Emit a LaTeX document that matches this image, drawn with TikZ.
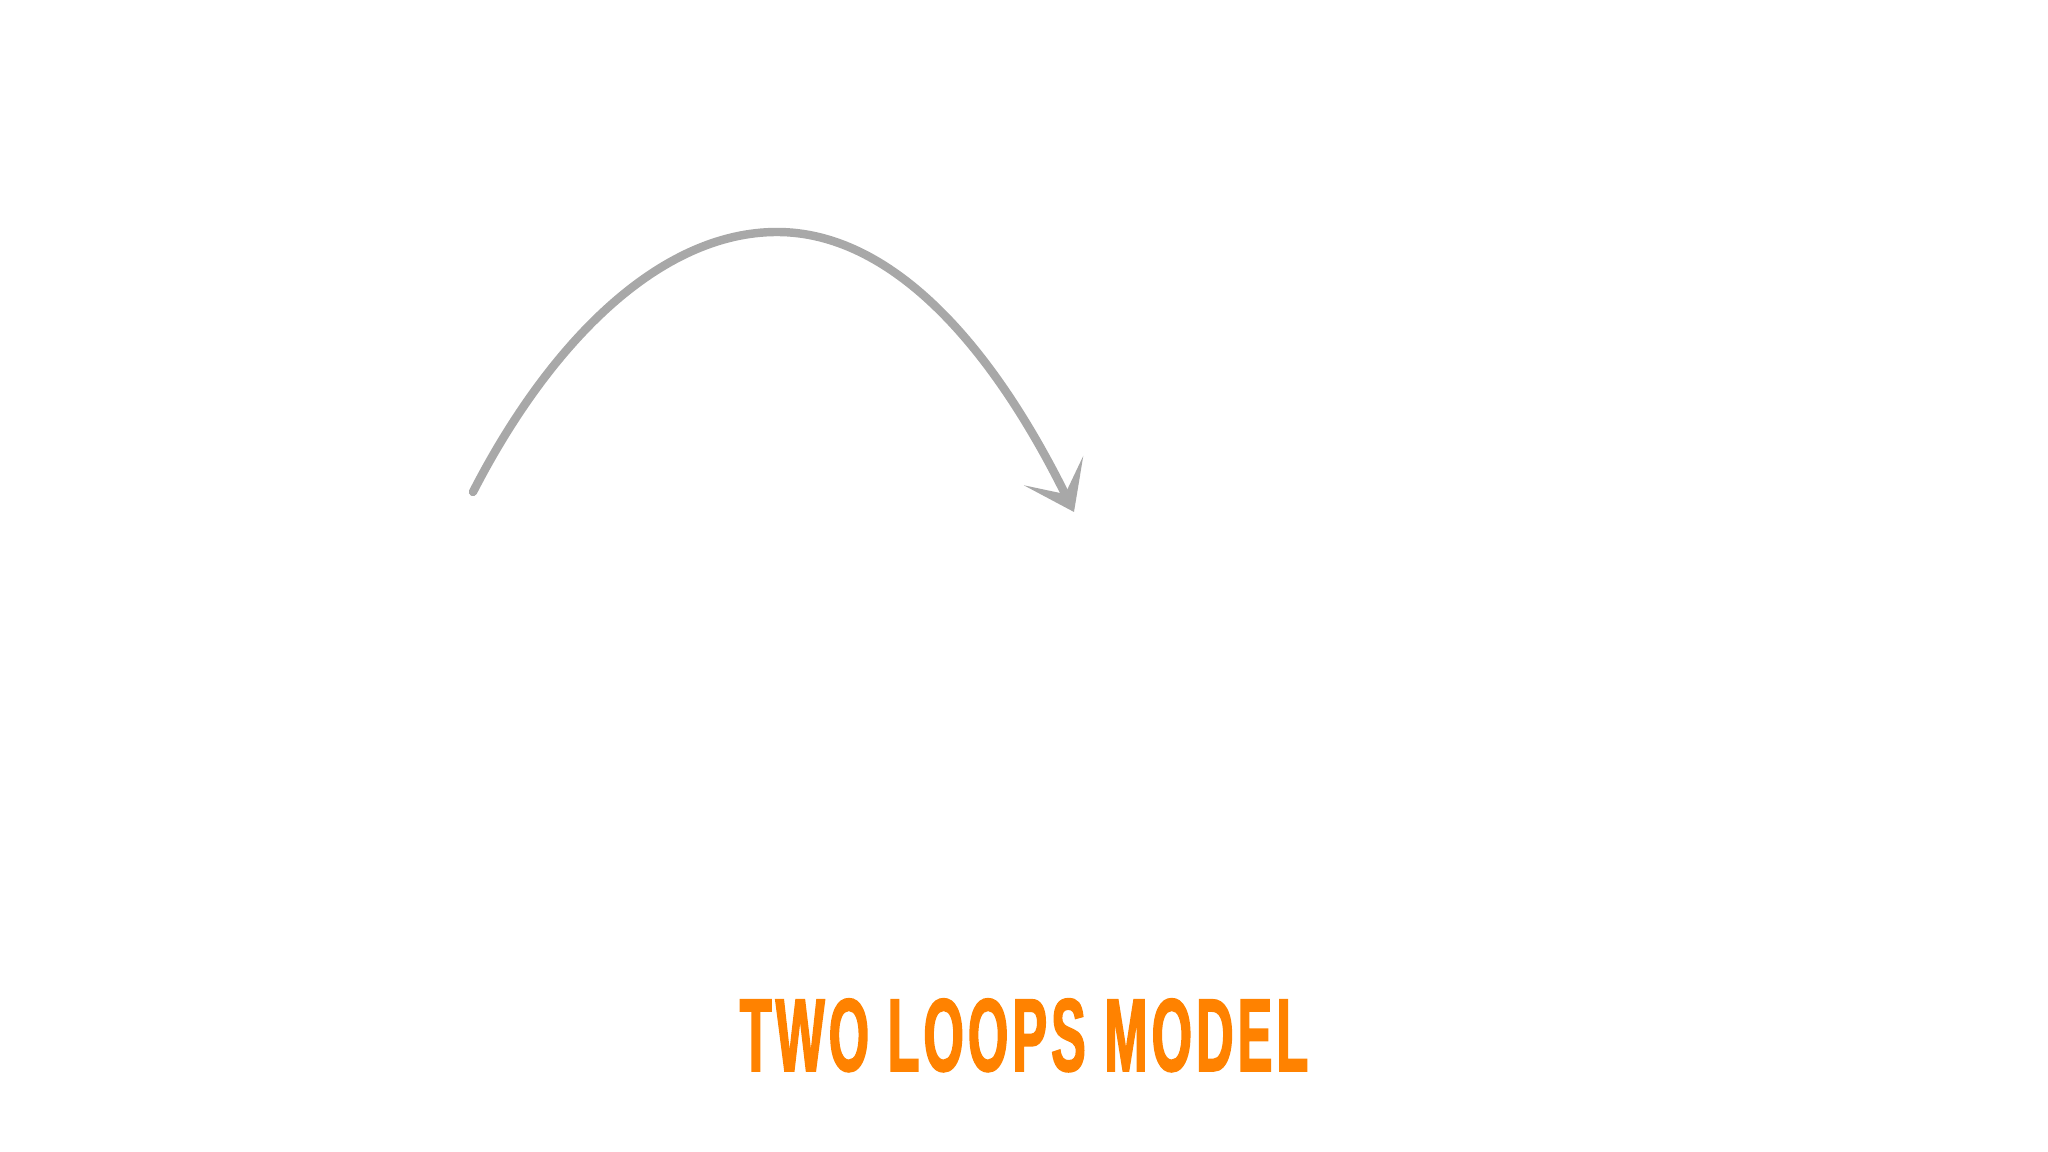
\documentclass[tikz,border=0pt]{standalone}
\usepackage{fontspec}
\usepackage{tikz}
\usetikzlibrary{positioning,arrows.meta,calc}
\newfontfamily\titlefont[FakeStretch=0.5,FakeBold=1.5,LetterSpace=4]{Liberation Sans}
\definecolor{loopgray}{RGB}{168,168,168}
\definecolor{looporange}{RGB}{255,130,0}

\begin{document}
\begin{tikzpicture}
\tikzset{
    sketch/.style={draw=loopgray, line width=2.4pt, line cap=round, -{Stealth[length=4.6mm, width=6.6mm, inset=2.6mm]}},
    title/.style={text=looporange, inner sep=0pt, font=\titlefont\bfseries\fontsize{29.5}{30}\selectfont}
}
\useasboundingbox (0,0) rectangle (20.48,11.52);
\coordinate (start) at (4.73,6.60);
\coordinate (peak) at (7.77,9.20);
\coordinate (stop) at (10.74,6.40);
\node[title, anchor=base] (model) at (10.24,0.81) {TWO LOOPS MODEL};

\draw[sketch] (start) .. controls (5.5,8.1) and (6.6,9.2) .. (peak) .. controls (8.9,9.2) and (9.9,8.1) .. (stop);
\end{tikzpicture}
\end{document}
